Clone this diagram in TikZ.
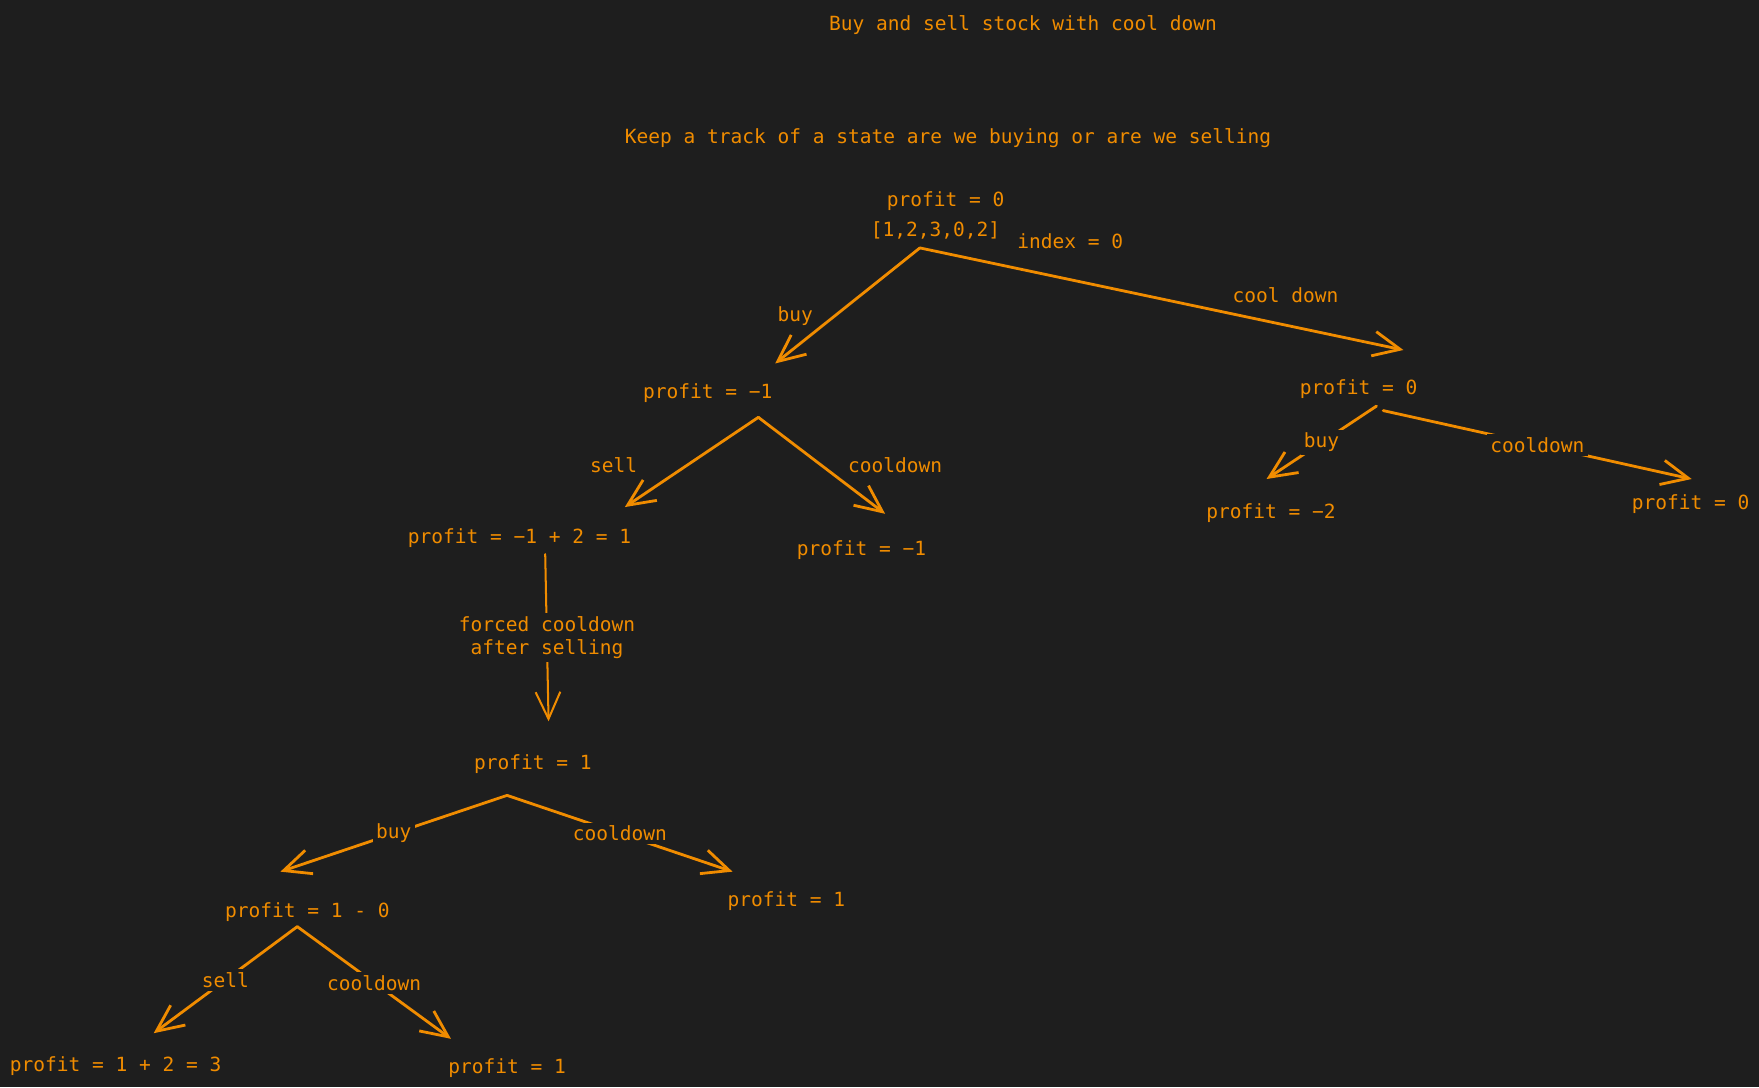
\documentclass[tikz,border=0pt]{standalone}
\usepackage{fontspec}
\setmonofont{DejaVu Sans Mono}
\usetikzlibrary{arrows.meta,calc,positioning}
\definecolor{bg}{HTML}{1E1E1E}
\definecolor{ink}{HTML}{F08C00}

\begin{document}
\begin{tikzpicture}[x=0.5pt,y=-0.5pt,->,>={Straight Barb[length=12pt,width=11pt]},
  color=ink,line width=1.25pt,line cap=round,line join=round,
  every node/.style={font=\ttfamily\fontsize{8.7}{10.5}\selectfont,inner sep=1pt,yshift=-1pt},
  lbl/.style={fill=bg,inner sep=1.5pt},
  thin line/.style={line width=0.9pt}]
 \fill[bg] (0,0) rectangle (1568,969);

 \node (title) at (912,20)  {Buy and sell stock with cool down};
 \node (note)  at (845,121) {Keep a track of a state are we buying or are we selling};

 % root
 \node (p0)  at (843,177) {profit = 0};
 \node (arr) at (834,203) {[1,2,3,0,2]};
 \node (idx) at (954,213) {index = 0};

 % buy branch
 \node (b1)   at (631,348)  {profit = −1};
 \node (b1s)  at (463,478)  {profit = −1 + 2 = 1};
 \node (b1c)  at (768,488)  {profit = −1};
 \node (b2)   at (475,679)  {profit = 1};
 \node (b2b)  at (274,811)  {profit = 1 - 0};
 \node (b2c)  at (701,801)  {profit = 1};
 \node (b3s)  at (103,948)  {profit = 1 + 2 = 3};
 \node (b3c)  at (452,950)  {profit = 1};

 % cool down branch
 \node (c1)   at (1211,345) {profit = 0};
 \node (c1b)  at (1133,455) {profit = −2};
 \node (c1c)  at (1507,447) {profit = 0};

 \node (lbuy)  at (709,280)  {buy};
 \node (lcool) at (1146,261) {cool down};
 \node (lsell) at (547,413)  {sell};
 \node (lcd)   at (798,413)  {cooldown};

 \path ($(arr)+(-14,16)$) edge ($(b1)+(60,-26)$)
                          edge ($(c1)+(40,-35)$)
       ($(b1)+(45,22)$)   edge ($(b1s)+(94,-28)$)
                          edge ($(b1c)+(21,-32)$)
       ($(b1s)+(23,14)$)  edge [thin line] node[lbl,align=center,yshift=1pt] {forced cooldown\\after selling} ($(b2)+(14,-38)$)
       ($(b2)+(-23,28)$)  edge node[lbl,yshift=1pt] {buy}      ($(b2b)+(-24,-36)$)
                          edge node[lbl,yshift=1pt] {cooldown} ($(b2c)+(-48,-26)$)
       ($(b2b)+(-9,13)$)  edge node[lbl,yshift=1pt] {sell}     ($(b3s)+(34,-29)$)
                          edge node[lbl,yshift=1pt] {cooldown} ($(b3c)+(-50,-26)$)
       ($(c1)+(16,15)$)   edge node[lbl,yshift=1pt] {buy}      ($(c1b)+(-4,-30)$)
       ($(c1)+(22,19)$)   edge node[lbl,yshift=1pt] {cooldown} ($(c1c)+(1,-22)$);
\end{tikzpicture}
\end{document}
